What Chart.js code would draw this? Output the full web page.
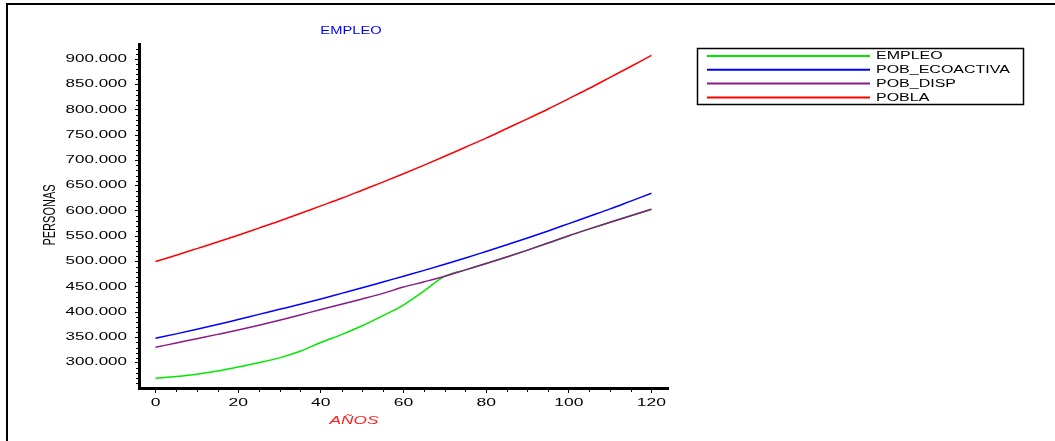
<!DOCTYPE html>
<html>
<head>
<meta charset="utf-8">
<title>EMPLEO</title>
<script src="https://cdn.jsdelivr.net/npm/chart.js@4"></script>
<style>
  html, body { margin: 0; padding: 0; background: #fff; }
  #chart { display: block; }
</style>
</head>
<body>
<canvas id="chart" width="1055" height="441"></canvas>
<script>
const years = [0, 5, 10, 15, 20, 25, 30, 35, 40, 45, 50, 55, 60, 65, 70, 75, 80, 85, 90, 95, 100, 105, 110, 115, 120];
const empleo = [269000, 272500, 277000, 283500, 291500, 300000, 309500, 322500, 340000, 355500, 373000, 393000, 414000, 442000, 471000, 483500, 496000, 509000, 522500, 536500, 551000, 564500, 577500, 590500, 603500];
const pobEcoactiva = [348500, 357000, 366000, 375500, 385500, 395500, 405500, 415500, 426000, 437000, 448000, 459500, 471000, 482500, 494500, 507000, 520000, 533000, 546500, 560500, 575000, 589500, 604000, 619500, 635000];
const pobDisp = [330500, 339000, 347500, 356000, 364700, 374000, 384000, 394500, 405000, 415500, 426000, 437000, 449500, 460000, 471000, 483500, 496000, 509000, 522500, 536500, 551000, 564500, 577500, 590500, 603500];
const pobla = [500000, 512500, 525500, 538500, 552000, 566000, 580000, 595000, 610000, 625000, 641000, 657000, 673500, 690500, 708000, 726000, 744000, 763000, 782000, 801500, 822000, 842500, 864000, 885500, 907500];

const xTicks = [0, 20, 40, 60, 80, 100, 120];
const yTicks = [300000, 350000, 400000, 450000, 500000, 550000, 600000, 650000, 700000, 750000, 800000, 850000, 900000];

const seriesNames = ['EMPLEO', 'POB_ECOACTIVA', 'POB_DISP', 'POBLA'];
const seriesColors = ['#00e800', '#0000ff', '#8a1a8a', '#ff0000'];
const seriesValues = [empleo, pobEcoactiva, pobDisp, pobla];

const FONT = 'Arial, "Liberation Sans", sans-serif';

function fmt(v) {
    return String(v).replace(/\B(?=(\d{3})+(?!\d))/g, '.');
}

// the original lettering is stretched sideways
function wideText(ctx, text, x, y, k, align) {
    ctx.save();
    ctx.translate(x, y);
    ctx.scale(k, 1);
    ctx.textAlign = align;
    ctx.fillText(text, 0, 0);
    ctx.restore();
}

const decor = {
    id: 'decor',
    afterDraw(chart) {
        const ctx = chart.ctx;
        const xs = chart.scales.x;
        const ys = chart.scales.y;
        ctx.save();

        // outer frame (top and left only)
        ctx.fillStyle = '#000';
        ctx.fillRect(6, 3, 1049, 2);
        ctx.fillRect(6, 3, 2, 438);

        // minor ticks
        ctx.strokeStyle = '#000';
        ctx.lineWidth = 1;
        ctx.beginPath();
        for (let v = 5; v <= 120; v += 5) {
            if (v % 20 === 0) continue;
            const px = Math.round(xs.getPixelForValue(v)) + 0.5;
            ctx.moveTo(px, xs.top);
            ctx.lineTo(px, xs.top + 4);
        }
        for (let v = 260000; v <= 920000; v += 10000) {
            if (v % 50000 === 0) continue;
            const py = Math.round(ys.getPixelForValue(v)) + 0.5;
            ctx.moveTo(ys.right - 3, py);
            ctx.lineTo(ys.right, py);
        }
        ctx.stroke();

        ctx.textBaseline = 'middle';
        ctx.fillStyle = '#000';
        ctx.font = '10px ' + FONT;

        // tick labels
        ys.ticks.forEach(t => {
            wideText(ctx, fmt(t.value), ys.right - 12, ys.getPixelForValue(t.value), 1.7, 'right');
        });
        xs.ticks.forEach(t => {
            wideText(ctx, String(t.value), xs.getPixelForValue(t.value), 403, 1.75, 'center');
        });

        // title
        ctx.fillStyle = '#0000ff';
        wideText(ctx, 'EMPLEO', 351, 31, 1.47, 'center');

        // x title
        ctx.fillStyle = '#ff2020';
        ctx.font = 'italic 11px ' + FONT;
        wideText(ctx, 'AÑOS', 354, 421, 1.57, 'center');

        // y title
        ctx.save();
        ctx.translate(50, 215);
        ctx.scale(1.5, 1);
        ctx.rotate(-Math.PI / 2);
        ctx.fillStyle = '#000';
        ctx.font = '11px ' + FONT;
        ctx.textAlign = 'center';
        ctx.fillText('PERSONAS', 0, 0);
        ctx.restore();

        // legend
        ctx.strokeStyle = '#000';
        ctx.lineWidth = 1.5;
        ctx.strokeRect(697.5, 48.5, 326, 56);
        ctx.font = '10px ' + FONT;
        chart.data.datasets.forEach((ds, i) => {
            const ly = 56 + i * 13.8;
            ctx.strokeStyle = ds.borderColor;
            ctx.lineWidth = 2;
            ctx.beginPath();
            ctx.moveTo(707, ly);
            ctx.lineTo(870, ly);
            ctx.stroke();
            ctx.fillStyle = '#000';
            wideText(ctx, ds.label, 876, ly + 0.5, 1.6, 'left');
        });

        ctx.restore();
    }
};

var datasets = seriesNames.map((name, i) => ({
    label: name,
    data: years.map((yr, j) => ({ x: yr, y: seriesValues[i][j] })),
    borderColor: seriesColors[i],
    backgroundColor: seriesColors[i],
    borderWidth: 1.5,
    pointRadius: 0,
    cubicInterpolationMode: 'monotone',
    fill: false,
    order: i === 0 ? 1 : 0
}));

Chart.defaults.font.family = FONT;
Chart.defaults.font.size = 10;
Chart.defaults.color = '#000';

var canvas = document.getElementById('chart');
new Chart(canvas.getContext('2d'), {
    type: 'line',
    data: { datasets: datasets },
    options: {
        responsive: false,
        animation: false,
        layout: { padding: { left: 39, right: 387, top: 44, bottom: 0 } },
        plugins: {
            legend: { display: false },
            title: { display: false },
            tooltip: { enabled: false }
        },
        scales: {
            x: {
                type: 'linear',
                position: 'bottom',
                min: -4,
                max: 124,
                afterBuildTicks: (scale) => { scale.ticks = xTicks.map(v => ({ value: v })); },
                afterFit: (scale) => { scale.height = 53; },
                ticks: { display: false },
                grid: { display: true, drawOnChartArea: false, drawTicks: true, tickLength: 5, tickColor: '#000' },
                border: { display: true, color: '#000', width: 3 }
            },
            y: {
                min: 250000,
                max: 930000,
                afterBuildTicks: (scale) => { scale.ticks = yTicks.map(v => ({ value: v })); },
                afterFit: (scale) => { scale.width = 100; },
                ticks: { display: false },
                grid: { display: true, drawOnChartArea: false, drawTicks: true, tickLength: 4, tickColor: '#000' },
                border: { display: true, color: '#000', width: 3 }
            }
        }
    },
    plugins: [decor]
});
</script>
</body>
</html>
